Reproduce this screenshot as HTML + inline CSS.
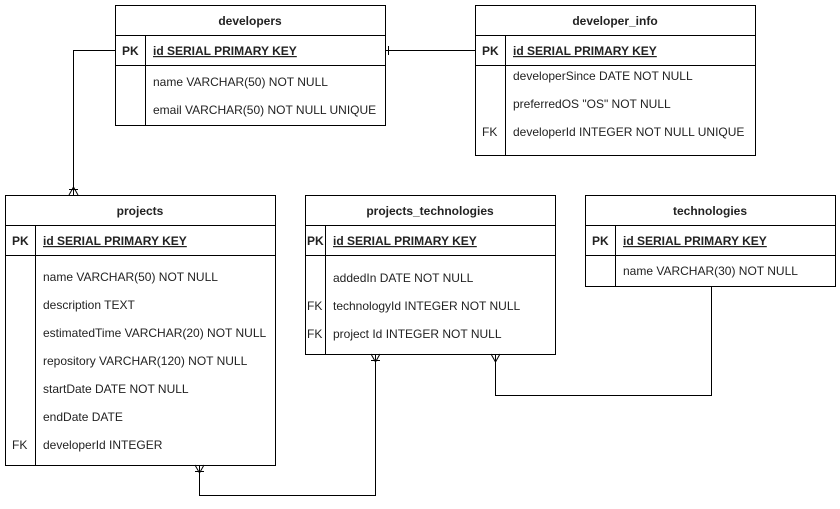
<!DOCTYPE html>
<html><head><meta charset="utf-8"><style>
html,body{margin:0;padding:0;background:#fff}
svg{display:block}
text{font-family:"Liberation Sans",Arial,sans-serif;font-size:12px;fill:#222}
.h{text-anchor:middle}
.b{font-weight:bold}
</style></head><body>
<svg width="840" height="509" viewBox="0 0 840 509" xmlns="http://www.w3.org/2000/svg">
<g fill="none" stroke="#000" stroke-width="1">
<!-- connectors -->
<path d="M115.5 50.5H73.5V195"/>
<path d="M69 195L73.5 187L78 195M69 189.5H78"/>
<path d="M385 50.5H475"/>
<path d="M388.5 46V55"/>
<path d="M199.5 465V495.5H375.5V354"/>
<path d="M195 465L199.5 473L204 465M195 471.5H204"/>
<path d="M371 354L375.5 362L380 354M371 360.5H380"/>
<path d="M495.5 354V395.5H711.5V286"/>
<path d="M491 354L495.5 362L500 354"/>
<!-- developers -->
<rect x="115.5" y="5.5" width="270" height="120"/>
<path d="M115.5 35.5H385.5M115.5 65.5H385.5M145.5 35.5V125.5"/>
<!-- developer_info -->
<rect x="475.5" y="5.5" width="280" height="150"/>
<path d="M475.5 35.5H755.5M475.5 65.5H755.5M505.5 35.5V155.5"/>
<!-- projects -->
<rect x="5.5" y="195.5" width="270" height="270"/>
<path d="M5.5 225.5H275.5M5.5 255.5H275.5M35.5 225.5V465.5"/>
<!-- projects_technologies -->
<rect x="305.5" y="195.5" width="250" height="159"/>
<path d="M305.5 225.5H555.5M305.5 255.5H555.5M325.5 225.5V354.5"/>
<!-- technologies -->
<rect x="585.5" y="195.5" width="250" height="91"/>
<path d="M585.5 225.5H835.5M585.5 255.5H835.5M615.5 225.5V286.5"/>
</g>
<!-- developers text -->
<text x="250" y="25" class="h b">developers</text>
<text x="122" y="55" class="b">PK</text>
<text x="153" y="55" class="b" text-decoration="underline">id SERIAL PRIMARY KEY</text>
<text x="153" y="86">name VARCHAR(50) NOT NULL</text>
<text x="153" y="114">email VARCHAR(50) NOT NULL UNIQUE</text>
<!-- developer_info -->
<text x="615" y="25" class="h b">developer_info</text>
<text x="482" y="55" class="b">PK</text>
<text x="513" y="55" class="b" text-decoration="underline">id SERIAL PRIMARY KEY</text>
<text x="513" y="80">developerSince DATE NOT NULL</text>
<text x="513" y="108">preferredOS "OS" NOT NULL</text>
<text x="482" y="136">FK</text>
<text x="513" y="136">developerId INTEGER NOT NULL UNIQUE</text>
<!-- projects -->
<text x="140" y="215" class="h b">projects</text>
<text x="12" y="245" class="b">PK</text>
<text x="43" y="245" class="b" text-decoration="underline">id SERIAL PRIMARY KEY</text>
<text x="43" y="281">name VARCHAR(50) NOT NULL</text>
<text x="43" y="309">description TEXT</text>
<text x="43" y="337">estimatedTime VARCHAR(20) NOT NULL</text>
<text x="43" y="365">repository VARCHAR(120) NOT NULL</text>
<text x="43" y="393">startDate DATE NOT NULL</text>
<text x="43" y="421">endDate DATE</text>
<text x="12" y="449">FK</text>
<text x="43" y="449">developerId INTEGER</text>
<!-- projects_technologies -->
<text x="430" y="215" class="h b">projects_technologies</text>
<text x="307" y="245" class="b">PK</text>
<text x="333" y="245" class="b" text-decoration="underline">id SERIAL PRIMARY KEY</text>
<text x="333" y="282">addedIn DATE NOT NULL</text>
<text x="307" y="310">FK</text>
<text x="333" y="310">technologyId INTEGER NOT NULL</text>
<text x="307" y="338">FK</text>
<text x="333" y="338">project Id INTEGER NOT NULL</text>
<!-- technologies -->
<text x="710" y="215" class="h b">technologies</text>
<text x="592" y="245" class="b">PK</text>
<text x="623" y="245" class="b" text-decoration="underline">id SERIAL PRIMARY KEY</text>
<text x="623" y="275">name VARCHAR(30) NOT NULL</text>
</svg>
</body></html>
